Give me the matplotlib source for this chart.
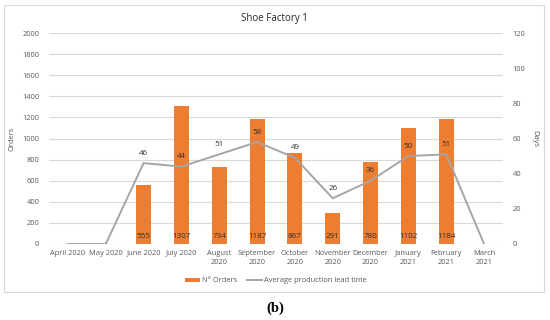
import matplotlib
matplotlib.use("Agg")
import matplotlib.pyplot as plt
from matplotlib.patches import Rectangle
import numpy as np

months = ["April 2020", "May 2020", "June 2020", "July 2020", "August\n2020",
          "September\n2020", "October\n2020", "November\n2020", "December\n2020",
          "January\n2021", "February\n2021", "March\n2021"]
orders = [0, 0, 555, 1307, 734, 1187, 867, 291, 780, 1102, 1184, 0]
lead_time = [0, 0, 46, 44, 51, 58, 49, 26, 36, 50, 51, 0]

plt.rcParams['font.family'] = ['Open Sans', 'DejaVu Sans']

ORANGE = "#ED7D31"
GRAY = "#A5A5A5"
TXT = "#595959"
LBL = "#303030"

fig = plt.figure(figsize=(5.5, 3.2), dpi=100)
fig.patch.set_facecolor("white")
fig.patches.append(Rectangle((4/550, 1-292/320), 540/550, 287/320, transform=fig.transFigure,
                             facecolor="white", edgecolor="#D9D9D9", linewidth=0.8, zorder=-10))

ax = fig.add_axes([49/550, 1-244/320, 454/550, 211/320])
ax.set_facecolor("none")
x = np.arange(len(months))
fs = 5.4

bars = ax.bar(x, orders, width=0.4, color=ORANGE, zorder=3, label="N° Orders")
ax.set_ylim(0, 2000)
ax.set_xlim(-0.5, len(months) - 0.5)
ax.set_yticks(np.arange(0, 2001, 200))
ax.grid(axis="y", color="#D9D9D9", linewidth=0.8, zorder=0)
ax.set_axisbelow(True)
for s in ax.spines.values():
    s.set_visible(False)
ax.tick_params(length=0, labelsize=fs, labelcolor=TXT)
ax.tick_params(axis="y", pad=7)
ax.tick_params(axis="x", pad=4)
ax.set_xticks(x)
ax.set_xticklabels(months, linespacing=1.5)
ax.set_ylabel("Orders", fontsize=fs, color=TXT, labelpad=5)

for xi, v in zip(x, orders):
    if v > 0:
        ax.annotate(str(v), (xi, 0), xytext=(0, 7), textcoords="offset pixels",
                    ha="center", va="center", fontsize=5.8, color=LBL, zorder=5)

ax2 = ax.twinx()
ax2.set_ylim(0, 120)
ax2.set_yticks(np.arange(0, 121, 20))
for s in ax2.spines.values():
    s.set_visible(False)
ax2.tick_params(length=0, labelsize=fs, labelcolor=TXT, pad=7)
ax2.plot(x, lead_time, color=GRAY, linewidth=1.4, zorder=4,
         label="Average production lead time", solid_joinstyle="round")
ax2.set_ylabel("Days", fontsize=fs, color=TXT, rotation=270, labelpad=9)

for xi, v in zip(x, lead_time):
    if v > 0:
        ax2.annotate(str(v), (xi, v), xytext=(0, 10), textcoords="offset pixels",
                     ha="center", va="center", fontsize=5.8, color=LBL, zorder=5)

fig.text(274/550, 1-18/320, "Shoe Factory 1", ha="center", va="center",
         fontsize=7.0, color="#262626")

h1, l1 = ax.get_legend_handles_labels()
h2, l2 = ax2.get_legend_handles_labels()
fig.legend(h1 + h2, l1 + l2, loc="center", bbox_to_anchor=(276/550, 1-281/320),
           ncol=2, frameon=False, fontsize=fs, labelcolor=TXT,
           handlelength=2.0, handleheight=0.5, handletextpad=0.3, columnspacing=1.2)

fig.text(275/550, 1-308/320, "(b)", ha="center", va="center", fontsize=10.5,
         fontweight="bold", family="Liberation Serif", color="black")

fig.savefig("out.png", dpi=100)
